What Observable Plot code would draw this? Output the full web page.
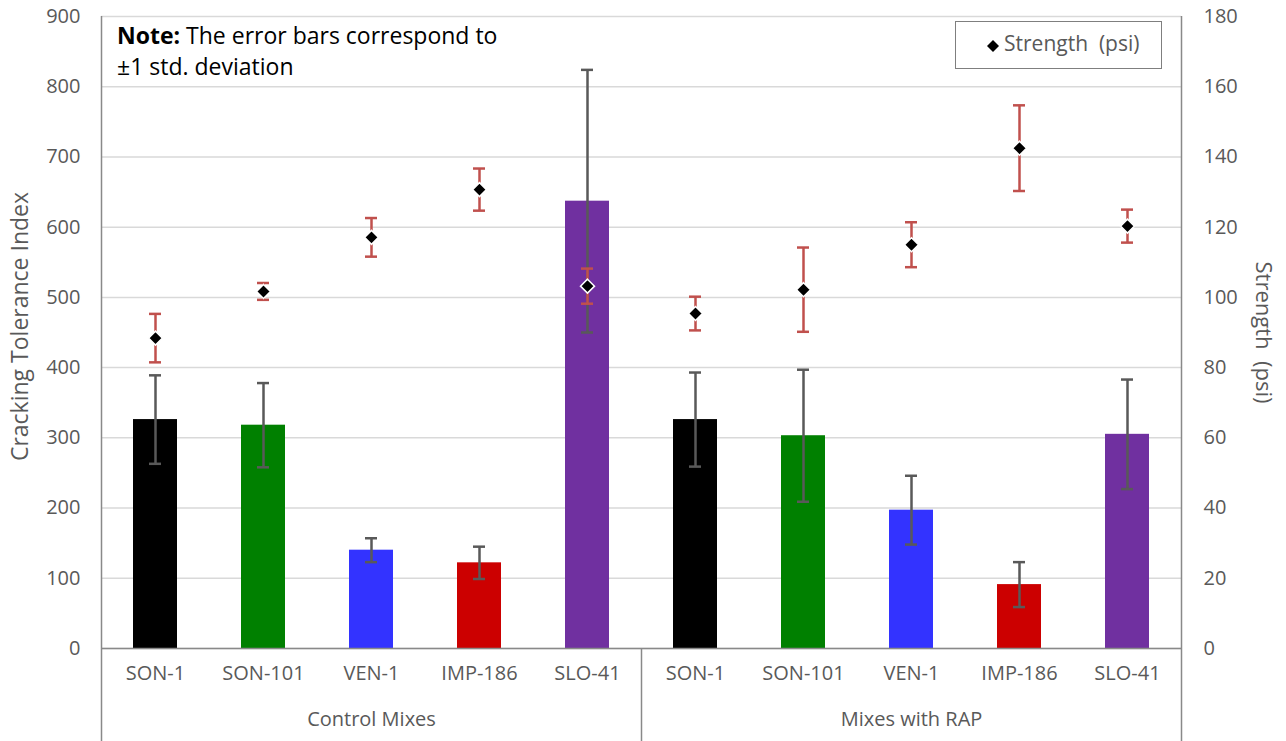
<!DOCTYPE html>
<html>
<head>
<meta charset="utf-8">
<script src="https://cdn.jsdelivr.net/npm/d3@7"></script>
<script src="https://cdn.jsdelivr.net/npm/@observablehq/plot@0.6"></script>
<style>
  html, body { margin: 0; padding: 0; background: #fff; }
  #wrap { position: relative; width: 1286px; height: 741px; font-family: "Open Sans", sans-serif; }
  #note { position: absolute; left: 117px; top: 20px; font-size: 23px; line-height: 31px; color: #000; }
  #legend { position: absolute; left: 955px; top: 21px; width: 205px; height: 46px; border: 1.5px solid #7f7f7f; box-sizing: content-box; }
  #legend svg { position: absolute; left: 30px; top: 17px; }
  #legend span { position: absolute; left: 48px; top: 7px; font-size: 21px; color: #595959; white-space: pre; }
</style>
</head>
<body>
<div id="wrap">
  <div id="chart"></div>
  <div id="note"><b>Note:</b> The error bars correspond to<br>±1 std. deviation</div>
  <div id="legend"><svg width="14" height="14"><path d="M7,1L13,7L7,13L1,7Z" fill="#000"/></svg><span>Strength  (psi)</span></div>
</div>
<script>
const mixes = ["SON-1", "SON-101", "VEN-1", "IMP-186", "SLO-41"];
const groups = ["Control Mixes", "Mixes with RAP"];
const barColors = ["#000000", "#008000", "#3333FF", "#CC0000", "#7030A0"];

const ctiControl   = [326, 318, 140, 122, 637];
const ctiControlSD = [63, 60, 17, 23, 187];
const ctiRAP       = [326, 303, 197, 91, 305];
const ctiRAPSD     = [67, 94, 49, 32, 78];

const strControl   = [88.4, 101.7, 117.1, 130.7, 103.2];
const strControlSD = [6.9, 2.4, 5.5, 6.0, 5.0];
const strRAP       = [95.4, 102.2, 115.0, 142.5, 120.3];
const strRAPSD     = [4.8, 12.0, 6.4, 12.2, 4.7];

const leftTicks  = [0, 100, 200, 300, 400, 500, 600, 700, 800, 900];
const rightTicks = [0, 20, 40, 60, 80, 100, 120, 140, 160, 180];
const leftTitle = "Cracking Tolerance Index";
const rightTitle = "Strength  (psi)";

const ratio = 900 / 180;

const rows = [];
groups.forEach((g, gi) => {
  mixes.forEach((m, mi) => {
    rows.push({
      key: g + "|" + m, group: g, mix: m, gi, mi,
      cti: gi === 0 ? ctiControl[mi] : ctiRAP[mi],
      ctiSD: gi === 0 ? ctiControlSD[mi] : ctiRAPSD[mi],
      str: gi === 0 ? strControl[mi] : strRAP[mi],
      strSD: gi === 0 ? strControlSD[mi] : strRAPSD[mi]
    });
  });
});
const keys = rows.map(d => d.key);

const W = 1286, H = 741, ML = 101, MR = 105, MT = 16, MB = 93;
const step = (W - ML - MR) / keys.length;
const below = -MB * 900 / (H - MT - MB);
const grey = "#595959";
const axisLine = "#898989";

const lastKeys = groups.map(g => g + "|" + mixes[mixes.length - 1]);
const midKeys = groups.map(g => g + "|" + mixes[2]);

const chart = Plot.plot({
  width: W, height: H,
  marginLeft: ML, marginRight: MR, marginTop: MT, marginBottom: MB,
  style: { fontFamily: "Open Sans, sans-serif", fontSize: "20px", color: grey, background: "white", overflow: "visible" },
  x: { domain: keys, paddingInner: 0.59, paddingOuter: 0.295, axis: null },
  y: { domain: [0, 900], axis: null },
  color: { domain: mixes, range: barColors },
  marks: [
    Plot.gridY({ ticks: leftTicks, stroke: "#D9D9D9", strokeOpacity: 1, strokeWidth: 1.5 }),
    Plot.axisY({ ticks: leftTicks, tickSize: 0, tickPadding: 21, fontSize: 20, fill: grey, label: null }),
    Plot.axisY({ anchor: "right", ticks: rightTicks.map(v => v * ratio), tickFormat: d => d / ratio, tickSize: 0, tickPadding: 22, fontSize: 20, fill: grey, label: null }),
    Plot.text([leftTitle], { text: d => d, frameAnchor: "left", textAnchor: "middle", dx: -81, dy: -6, rotate: -90, fontSize: 23, fill: grey }),
    Plot.text([rightTitle], { text: d => d, frameAnchor: "right", textAnchor: "middle", dx: 82, rotate: 90, fontSize: 22, fill: grey }),
    Plot.barY(rows, { x: "key", y: "cti", fill: "mix" }),
    Plot.ruleY([0], { stroke: axisLine, strokeWidth: 1.5 }),
    Plot.ruleX([keys[0]], { x: d => d, dx: -step / 2, y1: 900, y2: below, stroke: axisLine, strokeWidth: 1.5 }),
    Plot.ruleX([keys[keys.length - 1]], { x: d => d, dx: step / 2, y1: 900, y2: below, stroke: axisLine, strokeWidth: 1.5 }),
    Plot.ruleX([lastKeys[0]], { x: d => d, dx: step / 2, y1: 0, y2: below, stroke: axisLine, strokeWidth: 1.5 }),
    Plot.text(rows, { x: "key", text: "mix", frameAnchor: "bottom", dy: 31, fontSize: 20, fill: grey }),
    Plot.text(groups, { x: (g) => midKeys[groups.indexOf(g)], text: d => d, frameAnchor: "bottom", dy: 77, fontSize: 20, fill: grey }),
    // CTI error bars
    Plot.ruleX(rows, { x: "key", y1: d => d.cti - d.ctiSD, y2: d => d.cti + d.ctiSD, stroke: grey, strokeWidth: 2.5 }),
    Plot.tickY(rows, { x: "key", y: d => d.cti + d.ctiSD, stroke: grey, strokeWidth: 2.5, inset: 16 }),
    Plot.tickY(rows, { x: "key", y: d => d.cti - d.ctiSD, stroke: grey, strokeWidth: 2.5, inset: 16 }),
    // Strength error bars
    Plot.ruleX(rows, { x: "key", y1: d => (d.str - d.strSD) * ratio, y2: d => (d.str + d.strSD) * ratio, stroke: "#C0504D", strokeWidth: 2.5 }),
    Plot.tickY(rows, { x: "key", y: d => (d.str + d.strSD) * ratio, stroke: "#C0504D", strokeWidth: 2.5, inset: 16 }),
    Plot.tickY(rows, { x: "key", y: d => (d.str - d.strSD) * ratio, stroke: "#C0504D", strokeWidth: 2.5, inset: 16 }),
    Plot.dot(rows, { x: "key", y: d => d.str * ratio, symbol: "diamond2", r: 6.3, fill: "black", stroke: "white", strokeWidth: 1.5 })
  ]
});
document.getElementById("chart").appendChild(chart);
</script>
</body>
</html>
